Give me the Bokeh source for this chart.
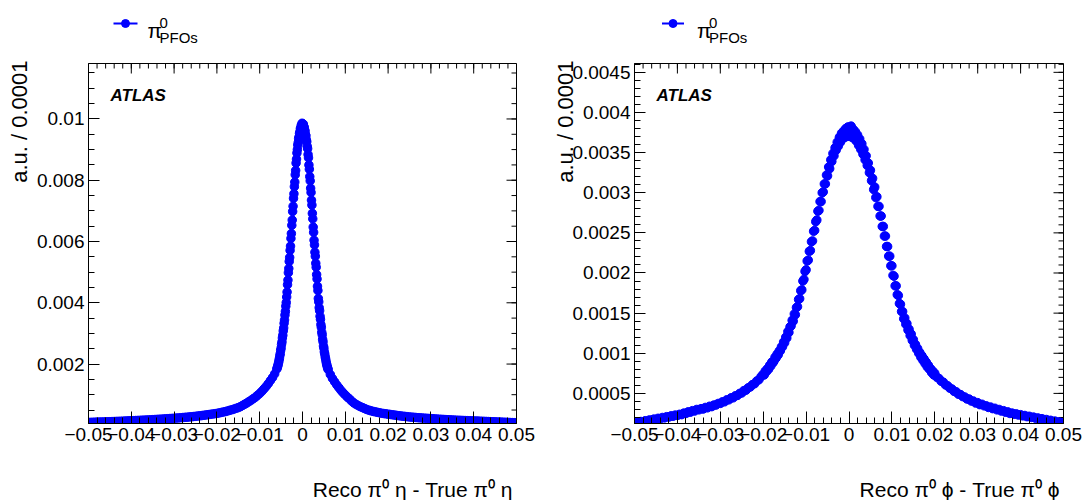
import numpy as np
from bokeh.plotting import figure
from bokeh.layouts import row, column
from bokeh.models import Range1d, FixedTicker, Label, Title
from bokeh.embed import file_html
from bokeh.resources import INLINE

# ---------------- data (values in units of 1e-4 a.u.) ----------------
UNIT = 1e-4

# eta panel: tails sampled every 0.0005, core (-0.006..0.006) every 0.0001
eta_left_tail = [
    0.95, 0.97, 1.0, 1.02, 1.05, 1.07, 1.1, 1.12, 1.15, 1.17,
    1.2, 1.23, 1.25, 1.28, 1.3, 1.33, 1.37, 1.4, 1.43, 1.47,
    1.5, 1.53, 1.57, 1.6, 1.63, 1.67, 1.7, 1.74, 1.78, 1.82,
    1.85, 1.9, 1.94, 1.98, 2.02, 2.07, 2.12, 2.17, 2.22, 2.26,
    2.3, 2.36, 2.42, 2.48, 2.54, 2.6, 2.66, 2.73, 2.8, 2.87,
    2.95, 3.03, 3.12, 3.2, 3.3, 3.4, 3.5, 3.6, 3.7, 3.8,
    3.9, 4.05, 4.2, 4.35, 4.5, 4.7, 4.9, 5.1, 5.3, 5.55,
    5.8, 6.1, 6.5, 6.9, 7.3, 7.75, 8.2, 8.7, 9.2, 9.8,
    10.4, 11.1, 11.9, 12.7, 13.6, 14.6, 15.6, 16.8,
]
eta_core = [
    18.4, 18.8, 19.3, 19.8, 20.4, 21.1, 21.8, 22.7, 23.4, 24.5,
    25.2, 26.4, 27.2, 28.5, 29.4, 30.8, 31.8, 33.3, 34.4, 36.0,
    37.2, 38.9, 40.1, 41.9, 43.5, 45.9, 47.4, 49.8, 51.2, 53.5,
    54.8, 57.1, 58.5, 61.0, 62.6, 65.3, 67.0, 69.8, 71.5, 74.1,
    75.6, 77.9, 79.4, 81.8, 83.2, 85.6, 86.9, 88.9, 90.0, 91.5,
    92.3, 93.6, 94.2, 95.3, 95.8, 96.8, 97.1, 97.9, 98.0, 98.6,
    98.4,
    98.2, 98.3, 97.5, 97.3, 96.4, 96.0, 94.9, 94.5, 93.2, 92.6,
    91.1, 90.3, 88.4, 87.3, 85.0, 83.6, 81.2, 79.8, 77.4, 76.0,
    73.5, 71.9, 69.2, 67.4, 64.7, 63.0, 60.4, 58.9, 56.5, 55.2,
    52.9, 51.6, 49.2, 47.8, 45.4, 44.0, 41.4, 40.3, 38.4, 37.4,
    35.6, 34.6, 32.9, 32.0, 30.4, 29.6, 28.1, 27.3, 25.9, 25.2,
    24.0, 23.3, 22.4, 21.7, 20.9, 20.2, 19.6, 19.1, 18.6, 18.2,
]
eta_right_tail = [
    16.6, 15.3, 14.2, 13.2, 12.3, 11.4, 10.6, 9.9, 9.2, 8.6,
    7.9, 7.3, 6.85, 6.45, 6.1, 5.8, 5.5, 5.2, 4.95, 4.75,
    4.55, 4.4, 4.25, 4.1, 3.95, 3.85, 3.75, 3.65, 3.55, 3.45,
    3.35, 3.25, 3.15, 3.06, 2.98, 2.9, 2.82, 2.75, 2.68, 2.62,
    2.56, 2.5, 2.45, 2.4, 2.35, 2.3, 2.25, 2.2, 2.15, 2.1,
    2.05, 2.0, 1.96, 1.92, 1.88, 1.84, 1.8, 1.76, 1.72, 1.68,
    1.65, 1.62, 1.59, 1.56, 1.53, 1.5, 1.47, 1.44, 1.41, 1.38,
    1.35, 1.32, 1.29, 1.26, 1.23, 1.2, 1.17, 1.14, 1.11, 1.08,
    1.05, 1.02, 0.99, 0.96, 0.93, 0.9, 0.87, 0.84,
]

# phi panel: tails every 0.0005, core (-0.02..0.02) every 0.00025
phi_left_tail = [
    1.3, 1.4, 1.35, 1.5, 1.45, 1.6, 1.55, 1.7, 1.65, 1.8,
    1.75, 1.9, 1.85, 2.0, 1.95, 2.1, 2.05, 2.2, 2.15, 2.3,
    2.25, 2.4, 2.35, 2.55, 2.5, 2.7, 2.65, 2.85, 2.8, 3.0,
    2.95, 3.1, 3.05, 3.25, 3.2, 3.4, 3.35, 3.55, 3.55, 3.75,
    3.75, 3.95, 3.95, 4.2, 4.2, 4.45, 4.45, 4.7, 4.75, 5.0,
    5.05, 5.35, 5.4, 5.7, 5.8, 6.1, 6.2, 6.55, 6.7, 7.1,
]
phi_core = [
    7.4, 7.3, 7.8, 7.7, 8.1, 8.0, 8.5, 8.4, 8.9, 8.8,
    9.0, 9.5, 9.4, 9.9, 9.8, 10.3, 10.3, 10.8, 10.8, 11.4,
    11.3, 12.0, 11.9, 12.7, 12.6, 13.3, 13.4, 14.1, 14.0, 14.9,
    14.8, 15.7, 15.8, 16.7, 16.8, 17.8, 17.9, 19.0, 19.2, 20.2,
    20.4, 21.5, 21.6, 22.7, 22.8, 23.9, 24.0, 25.2, 25.3, 26.4,
    26.6, 27.7, 27.8, 28.9, 28.9, 30.0, 30.1, 31.1, 31.1, 32.2,
    32.1, 33.2, 33.0, 34.1, 33.9, 34.9, 34.6, 35.6, 35.3, 36.3,
    35.8, 36.9, 36.3, 37.4, 36.7, 37.7, 36.9, 38.0, 37.0, 38.2,
    37.6,
    37.0, 38.3, 36.9, 37.9, 36.7, 37.6, 36.4, 37.2, 35.9, 36.7,
    35.4, 36.1, 34.8, 35.4, 34.1, 34.6, 33.4, 33.7, 32.5, 32.8,
    31.5, 31.8, 30.4, 30.7, 29.4, 29.5, 28.3, 28.3, 27.1, 27.1,
    25.8, 25.8, 24.6, 24.6, 23.3, 23.3, 22.1, 22.1, 20.9, 20.9,
    19.7, 19.6, 18.4, 18.4, 17.3, 17.2, 16.2, 16.1, 15.2, 15.2,
    14.3, 14.4, 13.6, 13.7, 12.9, 13.0, 12.2, 12.4, 11.6, 11.7,
    11.0, 11.1, 10.5, 10.6, 10.0, 10.1, 9.5, 9.7, 9.1, 9.3,
    8.7, 8.9, 8.3, 8.5, 8.0, 8.1, 7.6, 7.8, 7.3, 7.5,
]
phi_right_tail = [
    7.0, 6.85, 6.5, 6.4, 6.05, 5.95, 5.65, 5.55, 5.25, 5.2,
    4.9, 4.85, 4.6, 4.55, 4.3, 4.3, 4.05, 4.05, 3.8, 3.85,
    3.6, 3.65, 3.45, 3.45, 3.25, 3.3, 3.1, 3.15, 2.95, 3.0,
    2.8, 2.85, 2.65, 2.7, 2.5, 2.55, 2.4, 2.45, 2.3, 2.35,
    2.2, 2.25, 2.1, 2.15, 2.0, 2.05, 1.9, 1.95, 1.8, 1.85,
    1.7, 1.75, 1.6, 1.65, 1.5, 1.55, 1.4, 1.45, 1.3, 1.35,
]

x_ticks = [-0.05, -0.04, -0.03, -0.02, -0.01, 0.0, 0.01, 0.02, 0.03, 0.04, 0.05]
x_tick_labels = ["\u22120.05", "\u22120.04", "\u22120.03", "\u22120.02", "\u22120.01", "0",
                 "0.01", "0.02", "0.03", "0.04", "0.05"]
eta_y_ticks = [0.002, 0.004, 0.006, 0.008, 0.01]
eta_y_tick_labels = ["0.002", "0.004", "0.006", "0.008", "0.01"]
phi_y_ticks = [0.0005, 0.001, 0.0015, 0.002, 0.0025, 0.003, 0.0035, 0.004, 0.0045]
phi_y_tick_labels = ["0.0005", "0.001", "0.0015", "0.002", "0.0025", "0.003", "0.0035", "0.004", "0.0045"]

eta_x = np.concatenate([
    -0.05 + 0.0005 * np.arange(len(eta_left_tail)),
    -0.006 + 0.0001 * np.arange(len(eta_core)),
    0.0065 + 0.0005 * np.arange(len(eta_right_tail)),
])
eta_y = np.array(eta_left_tail + eta_core + eta_right_tail) * UNIT
phi_x = np.concatenate([
    -0.05 + 0.0005 * np.arange(len(phi_left_tail)),
    -0.02 + 0.00025 * np.arange(len(phi_core)),
    0.0205 + 0.0005 * np.arange(len(phi_right_tail)),
])
phi_y = np.array(phi_left_tail + phi_core + phi_right_tail) * UNIT

# ---------------- styling / layout ----------------
FONT = "Liberation Sans"
BLUE = "#0000ff"
HEAD_H = 60      # legend strip above each panel
FOOT_H = 47      # x-axis title strip below each panel
TOP = 3
FRAME_H = 360
BOTTOM = 30
MAIN_H = TOP + FRAME_H + BOTTOM
KEY_Y = HEAD_H - 23   # legend key height inside the strip (from its bottom)


def style_axis(ax, major_in, minor_in, standoff):
    ax.axis_line_color = "black"
    ax.major_tick_line_color = "black"
    ax.minor_tick_line_color = "black"
    ax.major_tick_in = major_in
    ax.major_tick_out = 0
    ax.minor_tick_in = minor_in
    ax.minor_tick_out = 0
    ax.major_label_text_font = FONT
    ax.major_label_text_font_size = "19px"
    ax.major_label_text_color = "black"
    ax.major_label_standoff = standoff


def strip(width, height, border_left, border_right):
    fw = width - border_left - border_right
    s = figure(width=width, height=height, x_range=Range1d(0, fw), y_range=Range1d(0, height),
               output_backend="svg", toolbar_location=None,
               min_border_left=border_left, min_border_right=border_right,
               min_border_top=0, min_border_bottom=0,
               x_axis_location=None, y_axis_location=None)
    s.outline_line_color = None
    s.grid.visible = False
    s.background_fill_color = "white"
    s.border_fill_color = "white"
    return s, fw


def header(width, border_left, border_right, key_x0, key_x1, pi_x):
    h, fw = strip(width, HEAD_H, border_left, border_right)
    # legend key: line with a marker (ROOT "lp" style)
    h.line([key_x0, key_x1], [KEY_Y, KEY_Y], line_color=BLUE, line_width=2)
    h.scatter([(key_x0 + key_x1) / 2], [KEY_Y], size=8, marker="circle", color=BLUE)
    h.add_layout(Label(x=pi_x, y=HEAD_H - 30, x_units="screen", y_units="screen",
                       text="\u03c0", text_font=FONT, text_font_size="21px",
                       text_baseline="alphabetic", text_color="black"))
    h.add_layout(Label(x=pi_x + 12, y=HEAD_H - 22, x_units="screen", y_units="screen",
                       text="0", text_font=FONT, text_font_size="15px",
                       text_baseline="alphabetic", text_color="black"))
    h.add_layout(Label(x=pi_x + 12, y=HEAD_H - 36.5, x_units="screen", y_units="screen",
                       text="PFOs", text_font=FONT, text_font_size="15px",
                       text_baseline="alphabetic", text_color="black"))
    return h


def footer(width, border_left, border_right, title):
    f, fw = strip(width, FOOT_H, border_left, border_right)
    f.add_layout(Label(x=fw - 4, y=11, x_units="screen", y_units="screen",
                       text=title, text_font=FONT, text_font_size="21px",
                       text_align="right", text_baseline="alphabetic", text_color="black"))
    return f


def panel(x, y, y_start, y_end, y_ticks, y_labels, y_minor,
          width, border_left, border_right, ytitle_standoff):
    p = figure(width=width, height=MAIN_H,
               x_range=Range1d(-0.05, 0.05), y_range=Range1d(y_start, y_end),
               output_backend="svg", toolbar_location=None,
               min_border_left=border_left, min_border_right=border_right,
               min_border_top=TOP, min_border_bottom=BOTTOM)
    p.grid.visible = False
    p.outline_line_color = "black"
    p.background_fill_color = "white"
    p.border_fill_color = "white"

    x_minor = list(np.round(np.arange(-0.05, 0.05001, 0.002), 4))
    p.xaxis.ticker = FixedTicker(ticks=x_ticks, minor_ticks=x_minor)
    p.xaxis.major_label_overrides = dict(zip(x_ticks, x_tick_labels))
    style_axis(p.xaxis[0], 12, 6, 4)
    p.yaxis.ticker = FixedTicker(ticks=y_ticks, minor_ticks=y_minor)
    p.yaxis.major_label_overrides = dict(zip(y_ticks, y_labels))
    style_axis(p.yaxis[0], 11, 6, 4)

    p.add_layout(Title(text="a.u. / 0.0001", align="right", offset=-3, text_font=FONT,
                       text_font_size="22px", text_font_style="normal",
                       text_color="black", standoff=ytitle_standoff), "left")

    # mirrored tick marks on the top and right frame edges (ROOT style)
    frame_w = width - border_left - border_right
    dy = (y_end - y_start) / FRAME_H
    dx = 0.1 / frame_w
    top_x = x_ticks + x_minor
    top_len = [10 * dy] * len(x_ticks) + [5 * dy] * len(x_minor)
    p.segment(x0=top_x, y0=[y_end] * len(top_x), x1=top_x,
              y1=[y_end - l for l in top_len], line_color="black", line_width=1)
    right_y = y_ticks + y_minor
    right_len = [10 * dx] * len(y_ticks) + [5 * dx] * len(y_minor)
    p.segment(x0=[0.05] * len(right_y), y0=right_y, x1=[0.05 - l for l in right_len],
              y1=right_y, line_color="black", line_width=1)

    p.scatter(x, y, size=8.5, marker="circle", color=BLUE)

    p.add_layout(Label(x=22, y=FRAME_H - 32, x_units="screen", y_units="screen",
                       text="ATLAS", text_font=FONT, text_font_size="17px",
                       text_font_style="bold italic", text_baseline="alphabetic",
                       text_color="black"))
    return p


eta_minor = list(np.round(np.arange(0.0005, 0.01151, 0.0005), 5))
phi_minor = list(np.round(np.arange(0.0002, 0.00461, 0.0001), 5))

W1, BL1, BR1 = 546, 88, 30
W2, BL2, BR2 = 537, 88, 20

h1 = header(W1, BL1, BR1, key_x0=25, key_x1=49, pi_x=59)
p1 = panel(eta_x, eta_y, 0.00006, 0.01181, eta_y_ticks, eta_y_tick_labels, eta_minor,
           W1, BL1, BR1, ytitle_standoff=4)
f1 = footer(W1, BL1, BR1, "Reco \u03c0\u2070 \u03b7 - True \u03c0\u2070 \u03b7")

h2 = header(W2, BL2, BR2, key_x0=27.5, key_x1=49.5, pi_x=62.5)
p2 = panel(phi_x, phi_y, 0.000125, 0.00461, phi_y_ticks, phi_y_tick_labels, phi_minor,
           W2, BL2, BR2, ytitle_standoff=-16)
f2 = footer(W2, BL2, BR2, "Reco \u03c0\u2070 \u03d5 - True \u03c0\u2070 \u03d5")

layout = row(column(h1, p1, f1), column(h2, p2, f2))
open("out.html", "w").write(file_html(layout, INLINE))
